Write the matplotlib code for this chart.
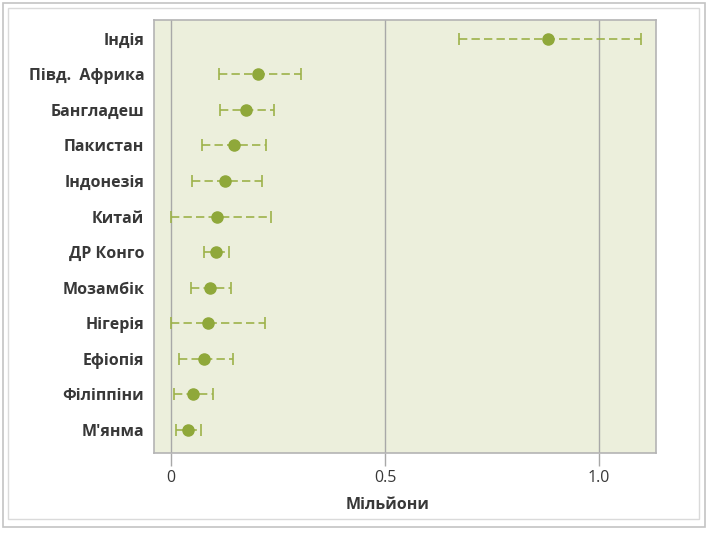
import matplotlib
matplotlib.use('Agg')
import matplotlib.pyplot as plt
import numpy as np
from matplotlib.patches import Rectangle

plt.rcParams['font.family'] = ['Open Sans', 'DejaVu Sans']

countries = ['Індія', 'Півд.  Африка', 'Бангладеш', 'Пакистан', 'Індонезія', 'Китай',
             'ДР Конго', 'Мозамбік', 'Нігерія', 'Ефіопія', 'Філіппіни', "М'янма"]
estimate = [0.881, 0.203, 0.175, 0.147, 0.126, 0.107, 0.105, 0.091, 0.086, 0.077, 0.051, 0.040]
lower = [0.673, 0.112, 0.114, 0.072, 0.049, 0.000, 0.077, 0.046, 0.000, 0.019, 0.007, 0.012]
upper = [1.098, 0.304, 0.241, 0.222, 0.213, 0.234, 0.135, 0.140, 0.220, 0.145, 0.098, 0.070]
xticks = [0, 0.5, 1.0]
xtick_labels = ['0', '0.5', '1.0']

green = '#8FA83A'
line_green = '#9DB24A'
text_col = '#383838'

fig = plt.figure(figsize=(7.08, 5.36), dpi=100)
W, H = 708, 536

# outer frame
fig.patches.append(Rectangle((3 / W, 9 / H), 702 / W, 524 / H, transform=fig.transFigure,
                             fill=False, edgecolor='#C4C4C4', linewidth=1.2))
fig.patches.append(Rectangle((8 / W, 17 / H), 691 / W, 511 / H, transform=fig.transFigure,
                             fill=False, edgecolor='#DADADA', linewidth=1.0))

ax = fig.add_axes([154 / W, (536 - 453) / H, 502 / W, 433 / H])
ax.set_facecolor('#ECEFDC')

n = len(countries)
y = np.arange(n)[::-1]
est = np.array(estimate)
err = np.array([est - np.array(lower), np.array(upper) - est])

line, caps, bars = ax.errorbar(est, y, xerr=err, fmt='o', color=green, markersize=8,
                               ecolor=line_green, elinewidth=1.2, capsize=4, capthick=1.2,
                               zorder=3)
bars[0].set_linestyle((0, (5, 2.5)))

ax.set_xlim(-0.040, 1.133)
ax.set_ylim(-0.65, n - 1 + 0.53)
ax.set_yticks(y)
ax.set_yticklabels(countries, fontsize=11.5, fontweight='bold', color=text_col)
ax.tick_params(axis='y', length=0, pad=7)

ax.set_xticks(xticks)
ax.set_xticklabels(xtick_labels, fontsize=11.5, color=text_col)
ax.tick_params(axis='x', length=9, width=1, color='#A8A8A8', pad=3)
ax.grid(axis='x', color='#A8A8A8', linewidth=1)
ax.set_axisbelow(True)

for s in ax.spines.values():
    s.set_color('#B4B4B4')
    s.set_linewidth(1.2)

fig.text(388 / W, 1 - 505 / H, 'Мільйони', fontsize=11.5, fontweight='bold',
         color=text_col, ha='center', va='center')

fig.savefig('out.png', dpi=100)
